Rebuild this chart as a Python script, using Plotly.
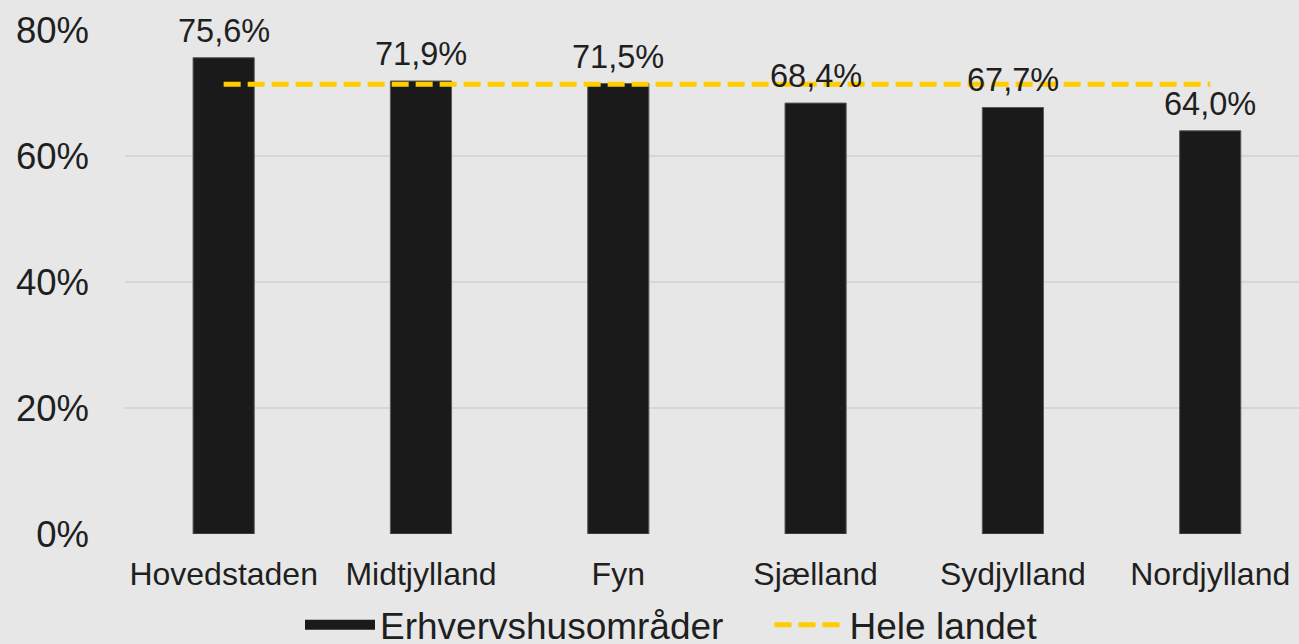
import plotly.graph_objects as go

regions = ["Hovedstaden", "Midtjylland", "Fyn", "Sjælland", "Sydjylland", "Nordjylland"]
erhvervshus = [75.6, 71.9, 71.5, 68.4, 67.7, 64.0]
hele_landet = [71.4, 71.4, 71.4, 71.4, 71.4, 71.4]
y_ticks = [0, 20, 40, 60, 80]

FONT = "Arial, Liberation Sans, sans-serif"
TXT = "#1f1f1f"
BG = "#e7e7e7"
NBSP = "\u00a0"

fig = go.Figure()

fig.add_trace(
    go.Bar(
        x=regions,
        y=erhvervshus,
        width=0.31,
        marker=dict(color="#1a1a1a", line=dict(color="#5a5a5a", width=1)),
        showlegend=False,
    )
)

# legend entry for the bars, drawn as a thick line so the key is wide
fig.add_trace(
    go.Scatter(
        x=[None],
        y=[None],
        mode="lines",
        line=dict(color="#1a1a1a", width=19),
        name="Erhvervshusområder" + NBSP * 4,
    )
)

fig.add_trace(
    go.Scatter(
        x=regions,
        y=hele_landet,
        mode="lines",
        line=dict(color="#ffcc00", width=5, dash="17px,7px"),
        name="Hele landet",
    )
)

for r, v in zip(regions, erhvervshus):
    fig.add_annotation(
        x=r,
        y=v,
        text=f"{v:.1f}%".replace(".", ","),
        showarrow=False,
        yanchor="bottom",
        yshift=7,
        font=dict(family=FONT, size=32.5, color=TXT),
    )

fig.update_layout(
    width=1299,
    height=644,
    paper_bgcolor=BG,
    plot_bgcolor=BG,
    margin=dict(l=125, r=0, t=30, b=110, autoexpand=False),
    font=dict(family=FONT, color=TXT),
    legend=dict(
        orientation="h",
        xref="container",
        x=300 / 1299,
        y=-0.181,
        xanchor="left",
        yanchor="middle",
        font=dict(size=37, color=TXT),
        itemwidth=70,
        bgcolor="rgba(0,0,0,0)",
    ),
)

fig.update_xaxes(
    range=[-0.5, 5.45],
    showgrid=False,
    showline=False,
    tickangle=0,
    tickfont=dict(size=32, color=TXT),
    ticklabelstandoff=18,
)
fig.update_yaxes(
    range=[0, 80],
    tickvals=y_ticks,
    ticktext=[f"{t}%" for t in y_ticks],
    showgrid=True,
    gridcolor="#d6d6d6",
    gridwidth=2,
    zeroline=False,
    tickfont=dict(size=36.5, color=TXT),
    ticklabelstandoff=35,
)

fig.write_html(
    "out.html",
    config={"displayModeBar": False},
    post_script="document.body.style.margin='0';",
)
